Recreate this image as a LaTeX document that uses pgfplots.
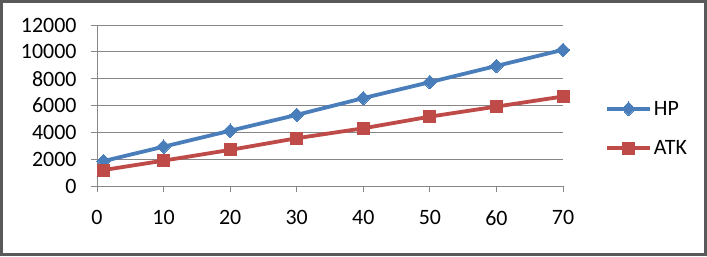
\documentclass[border=0pt]{standalone}
\usepackage{fontspec}
\setmainfont{Carlito}
\usepackage{pgfplots}
\pgfplotsset{compat=1.18}
\definecolor{hpblue}{HTML}{4A7EBB}
\definecolor{atkred}{HTML}{BE4B48}
\definecolor{gridgray}{HTML}{868686}
\begin{document}
\begin{tikzpicture}[x=1bp,y=1bp]
\useasboundingbox (0,0) rectangle (707,256);
\fill[white] (0,0) rectangle (707,256);
\draw[line width=3bp, color=black!65] (1.5,1.5) rectangle (705.5,254.5);
\begin{axis}[
  at={(97bp,70bp)}, anchor=south west,
  scale only axis, width=466bp, height=161bp,
  xmin=0, xmax=70, ymin=0, ymax=12000,
  xtick={0,10,...,70}, ytick={0,2000,...,12000},
  axis x line*=bottom, axis y line*=left,
  axis line style={gridgray, line width=0.8bp, -},
  ymajorgrids, grid style={gridgray, line width=0.8bp},
  tick align=outside, major tick length=6bp,
  tick style={gridgray, line width=0.8bp},
  /pgf/number format/assume math mode=true,
  scaled ticks=false,
  /pgf/number format/1000 sep={},
  tick label style={font=\fontsize{22}{25}\selectfont, black},
  xticklabel style={yshift=-15bp},
  yticklabel style={xshift=-11bp},
  clip=false,
  legend style={at={(1.09,0.357)}, anchor=west, draw=none, fill=none,
    font=\fontsize{22}{25}\selectfont, row sep=20bp, inner sep=0pt,
    /tikz/every even column/.append style={column sep=1bp}},
  legend cell align=left,
  legend image code/.code={
    \draw[#1, mark=none] (0bp,0bp) -- (43bp,0bp);
    \draw[#1, only marks] plot coordinates {(21.5bp,0bp)};
  },
]
\addplot[hpblue, line width=3.8bp, mark=diamond*, mark size=6.8bp, mark options={solid, line width=0pt, xscale=1.33}]
  coordinates {(1,1860) (10,2930) (20,4120) (30,5300) (40,6550) (50,7740) (60,8950) (70,10150)};
\addlegendentry{HP}
\addplot[atkred, line width=3.8bp, mark=square*, mark size=6bp, mark options={solid, line width=0pt}]
  coordinates {(1,1190) (10,1890) (20,2690) (30,3560) (40,4300) (50,5170) (60,5920) (70,6670)};
\addlegendentry{ATK}
\end{axis}
\end{tikzpicture}
\end{document}
